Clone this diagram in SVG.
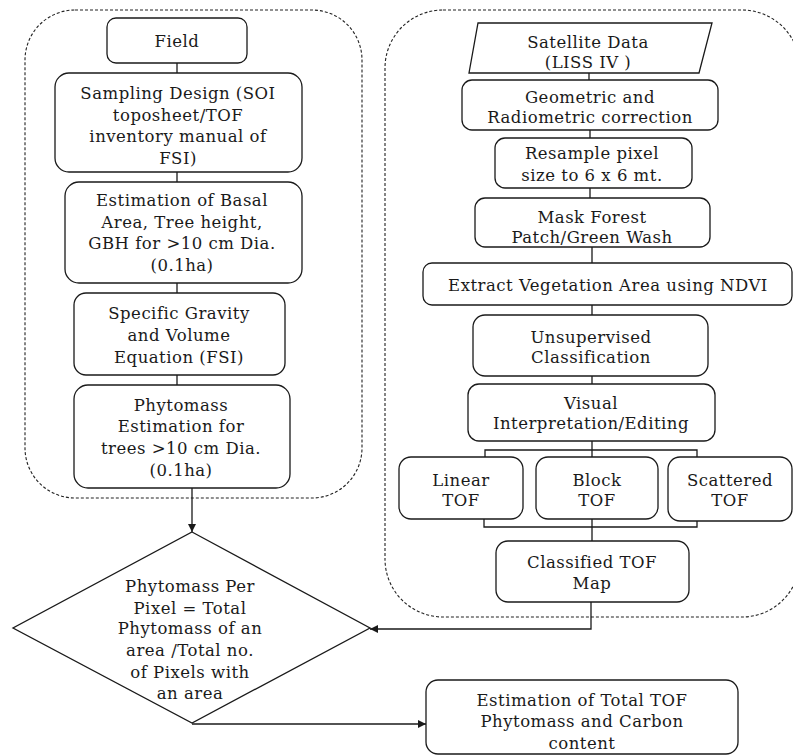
<svg xmlns="http://www.w3.org/2000/svg" width="793" height="755" viewBox="0 0 793 755">
<style>
  .box { fill: #fff; stroke: #1a1a1a; stroke-width: 1.3; }
  .group { fill: none; stroke: #222; stroke-width: 1.1; stroke-dasharray: 3 2; }
  .ln { fill: none; stroke: #1a1a1a; stroke-width: 1.3; }
  .t { font-family: "DejaVu Serif", "Liberation Serif", serif; font-size: 16.5px; letter-spacing: 0.5px; fill: #1a1a1a; text-anchor: middle; }
</style>
<defs>
  <marker id="arr" viewBox="0 0 10 10" refX="10" refY="5" markerWidth="8" markerHeight="8" markerUnits="userSpaceOnUse" orient="auto">
    <path d="M0,0 L10,5 L0,10 z" fill="#1a1a1a"/>
  </marker>
</defs>
<rect fill="#fff" x="0" y="0" width="793" height="755"/>

<g id="containers">
  <rect class="group" x="25" y="10" width="337" height="488" rx="50"/>
  <rect class="group" x="385" y="10" width="415" height="607" rx="58"/>
</g>

<g id="connectors">
  <line class="ln" x1="177" y1="63" x2="177" y2="73"/>
  <line class="ln" x1="177" y1="172" x2="177" y2="182"/>
  <line class="ln" x1="177" y1="283" x2="177" y2="293"/>
  <line class="ln" x1="177" y1="375" x2="177" y2="385"/>
  <line class="ln" x1="192" y1="488" x2="192" y2="532" marker-end="url(#arr)"/>
  <line class="ln" x1="589" y1="73" x2="589" y2="80"/>
  <line class="ln" x1="590" y1="130" x2="590" y2="138"/>
  <line class="ln" x1="590" y1="188" x2="590" y2="198"/>
  <line class="ln" x1="592" y1="247" x2="592" y2="263"/>
  <line class="ln" x1="592" y1="305" x2="592" y2="315"/>
  <line class="ln" x1="592" y1="376" x2="592" y2="384"/>
  <path class="ln" d="M592,441 V457 M485,457 V450 H697 V457"/>
  <path class="ln" d="M484,519 V527 H697 V521 M592,519 V541"/>
  <path class="ln" d="M591,602 V629 H370" marker-end="url(#arr)"/>
  <path class="ln" d="M192,724 H426" marker-end="url(#arr)"/>
</g>

<g id="field">
  <rect class="box" x="107" y="18" width="140" height="45" rx="9"/>
  <text class="t" x="177" y="47">Field</text>
</g>
<g id="sampling">
  <rect class="box" x="55" y="73" width="247" height="99" rx="14"/>
  <text class="t" x="178" y="99">Sampling Design (SOI</text>
  <text class="t" x="178" y="121">toposheet/TOF</text>
  <text class="t" x="178" y="142">inventory manual of</text>
  <text class="t" x="178" y="164">FSI)</text>
</g>
<g id="basal">
  <rect class="box" x="65" y="182" width="237" height="101" rx="14"/>
  <text class="t" x="182" y="206">Estimation of Basal</text>
  <text class="t" x="182" y="228">Area, Tree height,</text>
  <text class="t" x="182" y="249">GBH for &gt;10 cm Dia.</text>
  <text class="t" x="182" y="271">(0.1ha)</text>
</g>
<g id="gravity">
  <rect class="box" x="74" y="293" width="211" height="82" rx="12"/>
  <text class="t" x="179" y="319">Specific Gravity</text>
  <text class="t" x="179" y="341">and Volume</text>
  <text class="t" x="179" y="363">Equation (FSI)</text>
</g>
<g id="phytomass-est">
  <rect class="box" x="74" y="385" width="216" height="103" rx="14"/>
  <text class="t" x="181" y="411">Phytomass</text>
  <text class="t" x="181" y="432">Estimation for</text>
  <text class="t" x="181" y="454">trees &gt;10 cm Dia.</text>
  <text class="t" x="181" y="476">(0.1ha)</text>
</g>
<g id="per-pixel">
  <polygon class="box" points="192,532 370,628 192,723 13,628"/>
  <text class="t" x="190" y="592">Phytomass Per</text>
  <text class="t" x="190" y="614">Pixel = Total</text>
  <text class="t" x="190" y="634">Phytomass of an</text>
  <text class="t" x="190" y="656">area /Total no.</text>
  <text class="t" x="190" y="678">of Pixels with</text>
  <text class="t" x="190" y="699">an area</text>
</g>
<g id="satellite">
  <polygon class="box" points="478,23 712,23 699,73 469,73"/>
  <text class="t" x="588" y="48">Satellite Data</text>
  <text class="t" x="588" y="68">(LISS IV )</text>
</g>
<g id="correction">
  <rect class="box" x="462" y="80" width="256" height="50" rx="10"/>
  <text class="t" x="590" y="103">Geometric and</text>
  <text class="t" x="590" y="123">Radiometric correction</text>
</g>
<g id="resample">
  <rect class="box" x="495" y="138" width="197" height="50" rx="10"/>
  <text class="t" x="592" y="159">Resample pixel</text>
  <text class="t" x="592" y="181">size to 6 x 6 mt.</text>
</g>
<g id="mask">
  <rect class="box" x="475" y="198" width="235" height="49" rx="10"/>
  <text class="t" x="592" y="223">Mask Forest</text>
  <text class="t" x="592" y="243">Patch/Green Wash</text>
</g>
<g id="ndvi">
  <rect class="box" x="423" y="263" width="369" height="42" rx="9"/>
  <text class="t" x="608" y="291">Extract Vegetation Area using NDVI</text>
</g>
<g id="unsupervised">
  <rect class="box" x="473" y="315" width="235" height="61" rx="12"/>
  <text class="t" x="591" y="343">Unsupervised</text>
  <text class="t" x="591" y="363">Classification</text>
</g>
<g id="visual">
  <rect class="box" x="468" y="384" width="247" height="57" rx="11"/>
  <text class="t" x="591" y="409">Visual</text>
  <text class="t" x="591" y="429">Interpretation/Editing</text>
</g>
<g id="linear">
  <rect class="box" x="399" y="457" width="124" height="62" rx="12"/>
  <text class="t" x="461" y="486">Linear</text>
  <text class="t" x="461" y="506">TOF</text>
</g>
<g id="block">
  <rect class="box" x="536" y="457" width="122" height="62" rx="12"/>
  <text class="t" x="597" y="486">Block</text>
  <text class="t" x="597" y="506">TOF</text>
</g>
<g id="scattered">
  <rect class="box" x="668" y="457" width="124" height="64" rx="12"/>
  <text class="t" x="730" y="486">Scattered</text>
  <text class="t" x="730" y="506">TOF</text>
</g>
<g id="classified">
  <rect class="box" x="496" y="541" width="193" height="61" rx="12"/>
  <text class="t" x="592" y="568">Classified TOF</text>
  <text class="t" x="592" y="589">Map</text>
</g>
<g id="total">
  <rect class="box" x="426" y="680" width="312" height="74" rx="12"/>
  <text class="t" x="582" y="706">Estimation of Total TOF</text>
  <text class="t" x="582" y="727">Phytomass and Carbon</text>
  <text class="t" x="582" y="749">content</text>
</g>
</svg>
